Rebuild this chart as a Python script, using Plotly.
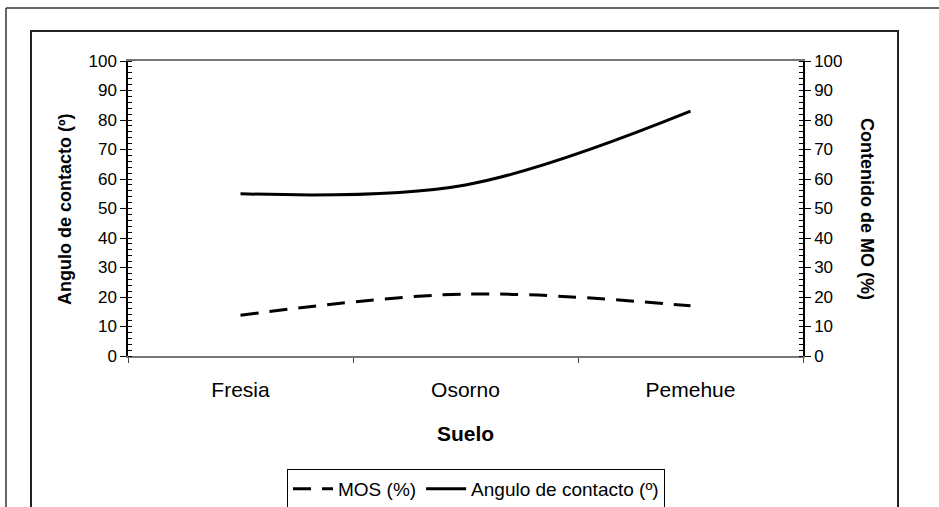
import plotly.graph_objects as go

categories = ["Fresia", "Osorno", "Pemehue"]
mos_values = [13.8, 21.0, 17.0]
angulo_values = [55.0, 58.0, 83.0]
y_ticks = [0, 10, 20, 30, 40, 50, 60, 70, 80, 90, 100]

W, H = 939, 507
L, R, T, B = 128, 803, 61, 356
pw, ph = R - L, B - T

def px(x):
    return (x - L) / pw

def py(y):
    return (B - y) / ph

FONT = "Liberation Sans, Arial, sans-serif"

fig = go.Figure()
fig.add_trace(go.Scatter(
    x=categories, y=mos_values, name="MOS (%)", yaxis="y2",
    mode="lines", line=dict(color="black", width=3, dash="18px,11px", shape="spline", smoothing=1),
))
fig.add_trace(go.Scatter(
    x=categories, y=angulo_values, name="Angulo de contacto (º)",
    mode="lines", line=dict(color="black", width=3, shape="spline", smoothing=1),
))

yax_common = dict(
    range=[0, 100], tickvals=y_ticks, showgrid=False, zeroline=False,
    showline=True, linecolor="black", linewidth=1.5,
    ticks="outside", ticklen=6, tickcolor="black", tickwidth=1,
    tickfont=dict(family=FONT, size=17, color="black"),
    minor=dict(ticks="inside", dtick=2, ticklen=4, tickcolor="black", tickwidth=1),
    fixedrange=True,
)

fig.update_layout(
    width=W, height=H,
    margin=dict(l=L, r=W - R, t=T, b=H - B, autoexpand=False),
    paper_bgcolor="white", plot_bgcolor="white",
    showlegend=True,
    xaxis=dict(
        type="category", range=[-0.5, 2.5], showgrid=False, zeroline=False,
        showline=True, linecolor="#777", linewidth=1.5, mirror=True,
        ticks="outside", tickson="boundaries", ticklen=5, tickcolor="#444",
        tickfont=dict(family=FONT, size=21, color="black"),
        ticklabelstandoff=14,
    ),
    yaxis=dict(**yax_common, side="left"),
    yaxis2=dict(**yax_common, side="right", overlaying="y", anchor="x"),
    yaxis3=dict(range=[0, 100], tickvals=y_ticks, overlaying="y", anchor="x", side="left",
                showline=False, showgrid=False, zeroline=False, showticklabels=False,
                ticks="inside", ticklen=4, tickcolor="black"),
    yaxis4=dict(range=[0, 100], tickvals=y_ticks, overlaying="y", anchor="x", side="right",
                showline=False, showgrid=False, zeroline=False, showticklabels=False,
                ticks="inside", ticklen=4, tickcolor="black"),
    legend=dict(
        orientation="h", x=px(476), xanchor="center", y=py(469), yanchor="top",
        bordercolor="black", borderwidth=1, bgcolor="white",
        font=dict(family=FONT, size=19, color="black"),
        itemwidth=40, tracegroupgap=0,
    ),
)

fig.add_annotation(text="<b>Suelo</b>", xref="paper", yref="paper", x=px(465), y=py(433),
                   showarrow=False, font=dict(family=FONT, size=21, color="black"),
                   xanchor="center", yanchor="middle")
fig.add_annotation(text="<b>Angulo de contacto (º)</b>", xref="paper", yref="paper", x=px(65), y=py(209),
                   showarrow=False, textangle=-90, font=dict(family=FONT, size=18, color="black"),
                   xanchor="center", yanchor="middle")
fig.add_annotation(text="<b>Contenido de MO (%)</b>", xref="paper", yref="paper", x=px(867), y=py(209),
                   showarrow=False, textangle=90, font=dict(family=FONT, size=18, color="black"),
                   xanchor="center", yanchor="middle")

# outer frame lines
fig.add_shape(type="line", xref="paper", yref="paper", x0=px(6), y0=py(8), x1=px(945), y1=py(8),
              line=dict(color="#333", width=1.5))
fig.add_shape(type="line", xref="paper", yref="paper", x0=px(6), y0=py(8), x1=px(6), y1=py(515),
              line=dict(color="#333", width=1.5))
# inner chart-area frame
fig.add_shape(type="rect", xref="paper", yref="paper", x0=px(31), y0=py(31), x1=px(898), y1=py(520),
              line=dict(color="#222", width=2), layer="below")

fig.write_html("out.html", config={"displayModeBar": False},
               post_script="document.body.style.margin='0';document.body.style.overflow='hidden';")
